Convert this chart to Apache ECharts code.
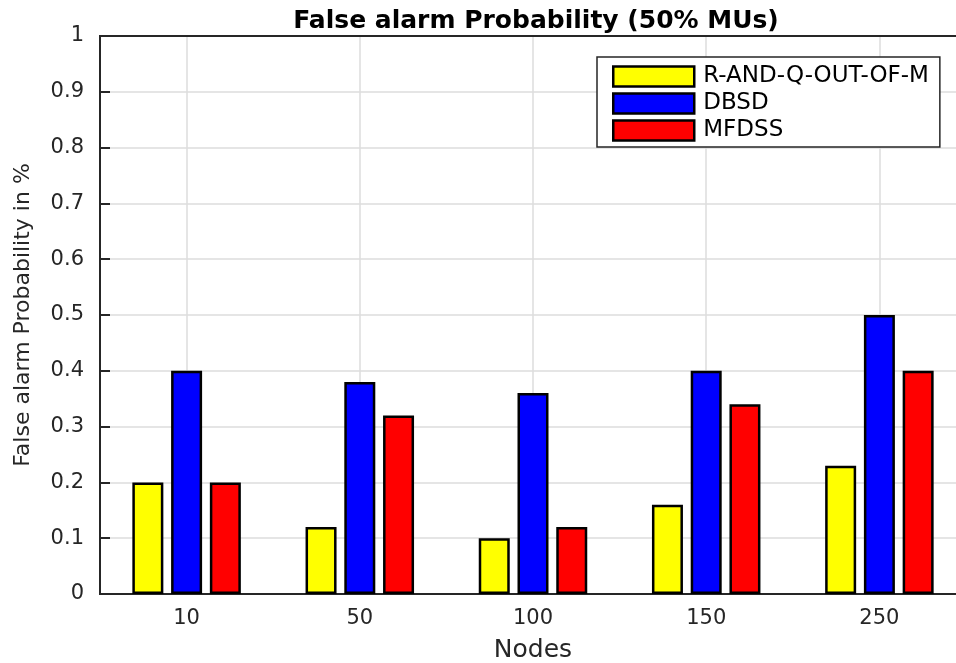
<!DOCTYPE html>
<html>
<head>
<meta charset="utf-8">
<script src="https://cdn.jsdelivr.net/npm/echarts@6/dist/echarts.min.js"></script>
<style>
html,body{margin:0;padding:0;background:#fff;}
#chart{width:956px;height:663px;}
</style>
</head>
<body>
<div id="chart"></div>
<script>
const categories = ['10', '50', '100', '150', '250'];
const seriesNames = ['R-AND-Q-OUT-OF-M', 'DBSD', 'MFDSS'];
const randQValues = [0.2, 0.12, 0.1, 0.16, 0.23];
const dbsdValues = [0.4, 0.38, 0.36, 0.4, 0.5];
const mfdssValues = [0.2, 0.32, 0.12, 0.34, 0.4];
const seriesColors = ['#ffff00', '#0000ff', '#ff0000'];

const FONT = 'DejaVu Sans';
const DARK = '#262626';

const chart = echarts.init(document.getElementById('chart'));

function barSeries(name, data, color) {
  return {
    name: name,
    type: 'bar',
    data: data,
    barWidth: 31,
    barGap: '25%',
    itemStyle: { color: color, borderColor: '#000', borderWidth: 2.5 }
  };
}

chart.setOption({
  animation: false,
  backgroundColor: '#fff',
  title: {
    text: 'False alarm Probability (50% MUs)',
    left: 531,
    textAlign: 'center',
    top: 4,
    textStyle: { fontFamily: FONT, fontWeight: 'bold', fontSize: 25, color: '#000' }
  },
  grid: {
    left: 100, top: 36, width: 866, height: 558,
    outerBoundsMode: 'none',
    containLabel: false,
    show: true, borderColor: DARK, borderWidth: 2, backgroundColor: '#fff'
  },
  legend: {
    orient: 'vertical',
    left: 597, top: 57,
    padding: [8, 11, 5, 15],
    itemWidth: 81, itemHeight: 20, itemGap: 4,
    backgroundColor: '#fff',
    borderColor: DARK, borderWidth: 1.5, borderRadius: 0,
    icon: 'rect',
    itemStyle: { borderColor: '#000', borderWidth: 2.5 },
    textStyle: { fontFamily: FONT, fontSize: 23, color: '#000', padding: [0, 0, 0, 4] },
    data: seriesNames
  },
  xAxis: [{
    type: 'category',
    data: categories,
    position: 'bottom',
    name: 'Nodes',
    nameLocation: 'middle',
    nameGap: 44,
    nameTextStyle: { fontFamily: FONT, fontSize: 25, color: DARK },
    axisLine: { lineStyle: { color: DARK, width: 2 } },
    axisTick: { inside: true, alignWithLabel: true, length: 10, lineStyle: { color: DARK, width: 2 } },
    axisLabel: { fontFamily: FONT, fontSize: 21, color: DARK, margin: 14 },
    splitLine: { show: true, alignWithLabel: true, lineStyle: { color: '#dcdcdc', width: 1.5 } }
  }, {
    type: 'category',
    data: categories,
    position: 'top',
    axisLine: { lineStyle: { color: DARK, width: 2 } },
    axisTick: { inside: true, alignWithLabel: true, length: 10, lineStyle: { color: DARK, width: 2 } },
    axisLabel: { show: false },
    splitLine: { show: false }
  }],
  yAxis: {
    type: 'value',
    min: 0, max: 1, interval: 0.1,
    name: 'False alarm Probability in %',
    nameLocation: 'middle',
    nameGap: 66,
    nameTextStyle: { fontFamily: FONT, fontSize: 22, color: DARK },
    axisLine: { show: true, lineStyle: { color: DARK, width: 2 } },
    axisTick: { show: true, inside: true, length: 10, lineStyle: { color: DARK, width: 2 } },
    axisLabel: { fontFamily: FONT, fontSize: 21, color: DARK, margin: 16 },
    splitLine: { show: true, lineStyle: { color: '#dcdcdc', width: 1.5 } }
  },
  series: [
    barSeries(seriesNames[0], randQValues, seriesColors[0]),
    barSeries(seriesNames[1], dbsdValues, seriesColors[1]),
    barSeries(seriesNames[2], mfdssValues, seriesColors[2])
  ]
});
</script>
</body>
</html>
